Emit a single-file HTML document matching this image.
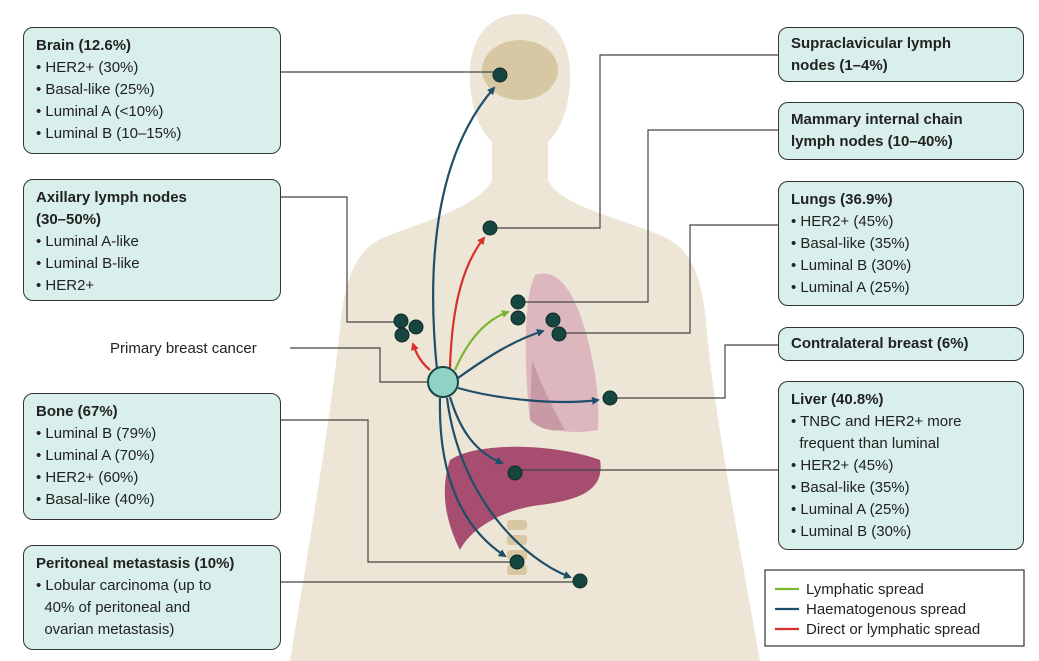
<!DOCTYPE html>
<html><head><meta charset="utf-8"><style>
body{margin:0;width:1039px;height:661px;background:#fff;overflow:hidden;font-family:"Liberation Sans",sans-serif}
svg{position:absolute;left:0;top:0}
.box{position:absolute;background:#d8efeb;border:1.3px solid #333;border-radius:10px;box-sizing:border-box;padding:7px 12px;font-size:15px;line-height:22px;color:#222}
.box b{font-weight:bold}
.box div{padding-left:0}
</style></head><body>
<svg width="1039" height="661" viewBox="0 0 1039 661">
<defs>
<marker id="ab" markerWidth="8" markerHeight="8" refX="6" refY="4" orient="auto" markerUnits="userSpaceOnUse"><path d="M0,0 L8,4 L0,8 Z" fill="#1f4e6b"/></marker>
<marker id="ar" markerWidth="8" markerHeight="8" refX="6" refY="4" orient="auto" markerUnits="userSpaceOnUse"><path d="M0,0 L8,4 L0,8 Z" fill="#d9302a"/></marker>
<marker id="ag" markerWidth="8" markerHeight="8" refX="6" refY="4" orient="auto" markerUnits="userSpaceOnUse"><path d="M0,0 L8,4 L0,8 Z" fill="#7ab531"/></marker>
</defs>
<!-- body -->
<path fill="#ede5d5" d="M520,14 C552,14 572,40 570,80 C569,110 560,130 548,142 L548,180 C560,205 610,215 660,235 C690,248 700,270 706,320 C712,400 735,520 760,661 L290,661 C310,540 330,420 340,330 C345,270 360,245 390,235 C430,220 480,205 492,180 L492,142 C480,130 471,110 470,80 C468,40 488,14 520,14 Z"/>
<!-- brain -->
<ellipse cx="520" cy="70" rx="38" ry="30" fill="#d8c7a3"/>
<!-- lung -->
<path fill="#d9b3bb" opacity="0.9" d="M535,275 C555,268 570,285 582,320 C595,360 600,400 598,430 C570,435 545,430 530,420 C525,380 522,300 535,275 Z"/>
<path fill="#c79aa5" d="M532,360 C540,380 548,400 565,430 C550,432 538,428 530,420 Z"/>
<!-- liver -->
<path fill="#a64d70" d="M450,460 C480,440 560,445 600,460 C605,490 580,500 540,505 C500,510 470,530 460,550 C445,520 440,490 450,460 Z"/>
<!-- spine -->
<g fill="#d8c7a3"><rect x="507" y="520" width="20" height="10" rx="3"/><rect x="507" y="535" width="20" height="10" rx="3"/><rect x="507" y="550" width="20" height="10" rx="3"/><rect x="507" y="565" width="20" height="10" rx="3"/></g>
<!-- connectors -->
<g stroke="#444" stroke-width="1.2" fill="none">
<path d="M281,72 H500"/>
<path d="M281,197 H347 V322 H400"/>
<path d="M290,348 H380 V382 H430"/>
<path d="M281,420 H368 V562 H517"/>
<path d="M281,582 H580"/>
<path d="M778,55 H600 V228 H490"/>
<path d="M778,130 H648 V302 H517"/>
<path d="M778,225 H690 V333 H559"/>
<path d="M778,345 H725 V398 H610"/>
<path d="M778,470 H515"/>
</g>
<!-- arrows -->
<g fill="none" stroke-width="2.2">
<path stroke="#1f4e6b" d="M437,370 C425,250 440,150 494,88" marker-end="url(#ab)"/>
<path stroke="#d9302a" d="M450,368 C452,300 465,262 484,238" marker-end="url(#ar)"/>
<path stroke="#d9302a" d="M430,370 Q418,360 413,344" marker-end="url(#ar)"/>
<path stroke="#7ab531" d="M455,370 C468,340 485,320 508,312" marker-end="url(#ag)"/>
<path stroke="#1f4e6b" d="M458,378 C490,355 515,340 543,331" marker-end="url(#ab)"/>
<path stroke="#1f4e6b" d="M458,388 C500,400 560,405 598,400" marker-end="url(#ab)"/>
<path stroke="#1f4e6b" d="M450,397 C460,430 475,452 502,463" marker-end="url(#ab)"/>
<path stroke="#1f4e6b" d="M440,398 C438,480 465,530 505,556" marker-end="url(#ab)"/>
<path stroke="#1f4e6b" d="M447,398 C460,500 525,560 570,577" marker-end="url(#ab)"/>
</g>
<!-- nodes -->
<g fill="#17453f" stroke="#0b2a28" stroke-width="1">
<circle cx="500" cy="75" r="7"/><circle cx="490" cy="228" r="7"/>
<circle cx="401" cy="321" r="7"/><circle cx="416" cy="327" r="7"/><circle cx="402" cy="335" r="7"/>
<circle cx="518" cy="302" r="7"/><circle cx="518" cy="318" r="7"/>
<circle cx="553" cy="320" r="7"/><circle cx="559" cy="334" r="7"/>
<circle cx="610" cy="398" r="7"/><circle cx="515" cy="473" r="7"/>
<circle cx="517" cy="562" r="7"/><circle cx="580" cy="581" r="7"/>
</g>
<circle cx="443" cy="382" r="15" fill="#8fd3c7" stroke="#17453f" stroke-width="2"/>
<text x="110" y="353" font-size="15" fill="#222" font-family="Liberation Sans,sans-serif">Primary breast cancer</text>
<!-- legend -->
<rect x="765" y="570" width="259" height="76" fill="#fff" stroke="#333" stroke-width="1.2"/>
<g stroke-width="2.2"><line x1="775" y1="589" x2="799" y2="589" stroke="#7ab531"/><line x1="775" y1="609" x2="799" y2="609" stroke="#1f4e6b"/><line x1="775" y1="629" x2="799" y2="629" stroke="#d9302a"/></g>
<g font-size="15" fill="#222" font-family="Liberation Sans,sans-serif"><text x="806" y="594">Lymphatic spread</text><text x="806" y="614">Haematogenous spread</text><text x="806" y="634">Direct or lymphatic spread</text></g>
</svg>
<div class="box" style="left:23px;top:27px;width:258px;height:127px"><b>Brain (12.6%)</b><div>• HER2+ (30%)</div><div>• Basal-like (25%)</div><div>• Luminal A (&lt;10%)</div><div>• Luminal B (10–15%)</div></div>
<div class="box" style="left:23px;top:179px;width:258px;height:122px"><b>Axillary lymph nodes<br>(30–50%)</b><div>• Luminal A-like</div><div>• Luminal B-like</div><div>• HER2+</div></div>
<div class="box" style="left:23px;top:393px;width:258px;height:127px"><b>Bone (67%)</b><div>• Luminal B (79%)</div><div>• Luminal A (70%)</div><div>• HER2+ (60%)</div><div>• Basal-like (40%)</div></div>
<div class="box" style="left:23px;top:545px;width:258px;height:105px"><b>Peritoneal metastasis (10%)</b><div>• Lobular carcinoma (up to<br>&nbsp;&nbsp;40% of peritoneal and<br>&nbsp;&nbsp;ovarian metastasis)</div></div>
<div class="box" style="left:778px;top:27px;width:246px;height:55px;padding-top:5px"><b>Supraclavicular lymph<br>nodes (1–4%)</b></div>
<div class="box" style="left:778px;top:102px;width:246px;height:58px;padding-top:6px"><b>Mammary internal chain<br>lymph nodes (10–40%)</b></div>
<div class="box" style="left:778px;top:181px;width:246px;height:125px"><b>Lungs (36.9%)</b><div>• HER2+ (45%)</div><div>• Basal-like (35%)</div><div>• Luminal B (30%)</div><div>• Luminal A (25%)</div></div>
<div class="box" style="left:778px;top:327px;width:246px;height:34px;padding-top:5px"><b>Contralateral breast (6%)</b></div>
<div class="box" style="left:778px;top:381px;width:246px;height:169px"><b>Liver (40.8%)</b><div>• TNBC and HER2+ more<br>&nbsp;&nbsp;frequent than luminal</div><div>• HER2+ (45%)</div><div>• Basal-like (35%)</div><div>• Luminal A (25%)</div><div>• Luminal B (30%)</div></div>
</body></html>
